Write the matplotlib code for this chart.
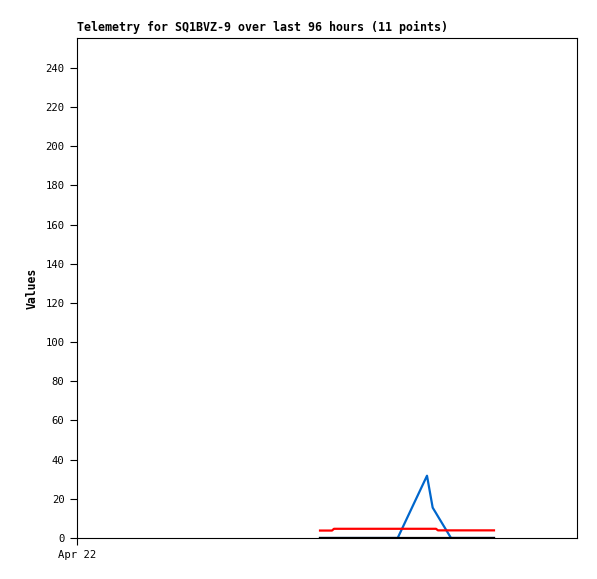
import matplotlib
matplotlib.use("Agg")
import matplotlib.pyplot as plt

# hours since Apr 22 00:00
hours = [46.66, 48.96, 49.34, 61.57, 67.20, 68.29, 68.93, 69.31, 71.81, 75.46, 80.06]
series_red = [3.8, 3.8, 4.7, 4.7, 4.7, 4.7, 4.7, 3.9, 3.9, 3.9, 3.9]
series_blue = [0, 0, 0, 0, 31.8, 15.5, 12.7, 11.0, 0, 0, 0]
series_black = [0, 0, 0, 0, 0, 0, 0, 0, 0, 0, 0]
x_ticks = [0]
x_labels = ["Apr 22"]
y_ticks = list(range(0, 241, 20))

fig = plt.figure(figsize=(5.97, 5.79), dpi=100)
ax = fig.add_axes([77/597, 1-538/579, 500/597, 500/579])
mono = "DejaVu Sans Mono"

ax.plot(hours, series_blue, color="#0066cc", lw=1.6, zorder=2)
ax.plot(hours, series_red, color="#ff0000", lw=1.6, zorder=3)
ax.plot(hours, series_black, color="#000000", lw=1.6, zorder=4)

ax.set_xlim(0, 96)
ax.set_ylim(0, 255.3)
ax.set_xticks(x_ticks)
ax.set_xticklabels(x_labels, fontfamily=mono, fontsize=7.6)
ax.set_yticks(y_ticks)
ax.set_yticklabels([str(v) for v in y_ticks], fontfamily=mono, fontsize=7.6)
ax.tick_params(direction="out", length=5, width=0.8, pad=4)
for s in ax.spines.values():
    s.set_linewidth(0.8)
ax.set_ylabel("Values", fontfamily=mono, fontweight="bold", fontsize=8.3, labelpad=5)
fig.text(77/597, 1-31/579, "Telemetry for SQ1BVZ-9 over last 96 hours (11 points)",
         fontfamily=mono, fontweight="bold", fontsize=8.35, ha="left", va="baseline")

fig.savefig("out.png", dpi=100)
